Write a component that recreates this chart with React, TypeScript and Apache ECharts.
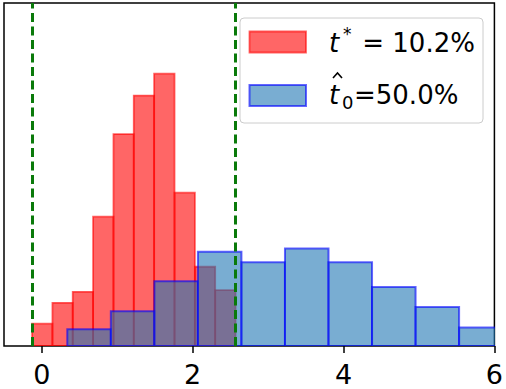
import React, { useEffect, useRef } from "react";
import * as echarts from "echarts";

// ---- data ----
const xTickValues = [0, 2, 4, 6];
const redBinEdges = [-0.128, 0.142, 0.411, 0.681, 0.951, 1.22, 1.49, 1.76, 2.03, 2.299, 2.569];
const redDensity = [0.065, 0.126, 0.158, 0.377, 0.618, 0.73, 0.794, 0.447, 0.231, 0.163];
const blueBinEdges = [0.339, 0.916, 1.493, 2.07, 2.647, 3.224, 3.801, 4.378, 4.955, 5.532, 6.109];
const blueDensity = [0.049, 0.101, 0.189, 0.275, 0.244, 0.284, 0.244, 0.172, 0.114, 0.054];
const thresholdLines = [-0.128, 2.569];
const redLabel = "t* = 10.2%";
const blueLabel = "t̂0=50.0%";

const toBins = (edges: number[], vals: number[]) =>
  vals.map((v, i) => [edges[i], edges[i + 1], v]);

const FONT = '"DejaVu Sans", "Liberation Sans", sans-serif';

function makeRender(fill: string, stroke: string, lw: number) {
  return (params: any, api: any) => {
    const x0 = api.value(0);
    const x1 = api.value(1);
    const h = api.value(2);
    const p0 = api.coord([x0, h]);
    const p1 = api.coord([x1, 0]);
    return {
      type: "rect",
      shape: { x: p0[0], y: p0[1], width: p1[0] - p0[0], height: p1[1] - p0[1] },
      style: { fill, stroke, lineWidth: lw },
    };
  };
}

export default function App() {
  const ref = useRef<HTMLDivElement>(null);
  useEffect(() => {
    if (!ref.current) return;
    const chart = echarts.init(ref.current, null, { renderer: "svg" });
    const option: any = {
      animation: false,
      textStyle: { fontFamily: FONT },
      grid: {
        left: 4,
        right: 9,
        top: 3,
        bottom: 43,
        show: true,
        borderColor: "#000",
        borderWidth: 1.5,
        backgroundColor: "transparent",
      },
      xAxis: {
        type: "value",
        min: -0.5,
        max: 6,
        axisLine: { show: false },
        splitLine: { show: false },
        axisTick: {
          show: true,
          customValues: xTickValues,
          length: 7,
          lineStyle: { color: "#000", width: 1.5 },
        },
        axisLabel: {
          show: true,
          customValues: xTickValues,
          fontSize: 27,
          color: "#000",
          fontFamily: FONT,
          margin: 15,
        },
      },
      yAxis: {
        type: "value",
        min: 0,
        max: 1.0,
        axisLine: { show: false },
        axisTick: { show: false },
        axisLabel: { show: false },
        splitLine: { show: false },
      },
      series: [
        {
          name: "t*",
          type: "custom",
          clip: true,
          renderItem: makeRender("rgba(255,0,0,0.6)", "rgba(255,0,0,0.6)", 1.8),
          encode: { x: [0, 1], y: 2 },
          data: toBins(redBinEdges, redDensity),
          z: 2,
        },
        {
          name: "t0",
          type: "custom",
          clip: true,
          renderItem: makeRender("rgba(31,119,180,0.6)", "rgba(0,0,255,0.6)", 2),
          encode: { x: [0, 1], y: 2 },
          data: toBins(blueBinEdges, blueDensity),
          z: 3,
        },
        {
          name: "thresholds",
          type: "line",
          data: [],
          z: 5,
          markLine: {
            silent: true,
            symbol: ["none", "none"],
            label: { show: false },
            lineStyle: { color: "#0a7a0a", width: 3, type: [9, 4.5] },
            data: thresholdLines.map((v) => ({ xAxis: v })),
          },
        },
      ],
      graphic: [
        {
          type: "rect",
          z: 100,
          shape: { x: 240, y: 18, width: 243, height: 105, r: 4 },
          style: { fill: "rgba(255,255,255,0.8)", stroke: "#cccccc", lineWidth: 1 },
        },
        {
          type: "rect",
          z: 101,
          shape: { x: 249.5, y: 31.5, width: 56.5, height: 21 },
          style: { fill: "rgba(255,0,0,0.6)", stroke: "rgba(255,0,0,0.6)", lineWidth: 1.8 },
        },
        {
          type: "rect",
          z: 101,
          shape: { x: 249.5, y: 85, width: 56.5, height: 21 },
          style: { fill: "rgba(31,119,180,0.6)", stroke: "rgba(0,0,255,0.6)", lineWidth: 2 },
        },
        // row 1: t* = 10.2%
        {
          type: "text",
          z: 101,
          style: { text: redLabel.slice(0, 1), x: 329, y: 43, font: `italic 26px ${FONT}`, fill: "#000", verticalAlign: "middle" },
        },
        {
          type: "text",
          z: 101,
          style: { text: redLabel.slice(1, 2), x: 343, y: 34, font: `17px ${FONT}`, fill: "#000", verticalAlign: "middle" },
        },
        {
          type: "text",
          z: 101,
          style: { text: redLabel.slice(2), x: 354, y: 43, font: `26px ${FONT}`, fill: "#000", verticalAlign: "middle" },
        },
        // row 2: t̂0=50.0%
        {
          type: "text",
          z: 101,
          style: { text: "t", x: 329, y: 95, font: `italic 26px ${FONT}`, fill: "#000", verticalAlign: "middle" },
        },
        {
          type: "polyline",
          z: 101,
          shape: { points: [[333, 78], [337.5, 73], [342, 78]] },
          style: { stroke: "#000", lineWidth: 1.6, fill: "none" },
        },
        {
          type: "text",
          z: 101,
          style: { text: blueLabel.slice(2, 3), x: 342, y: 102, font: `18px ${FONT}`, fill: "#000", verticalAlign: "middle" },
        },
        {
          type: "text",
          z: 101,
          style: { text: blueLabel.slice(3), x: 354, y: 95, font: `26px ${FONT}`, fill: "#000", verticalAlign: "middle" },
        },
      ],
    };
    chart.setOption(option);
    return () => chart.dispose();
  }, []);
  return (
    <div
      ref={ref}
      style={{ position: "fixed", left: 0, top: 0, width: 506, height: 389, background: "#fff" }}
    />
  );
}
